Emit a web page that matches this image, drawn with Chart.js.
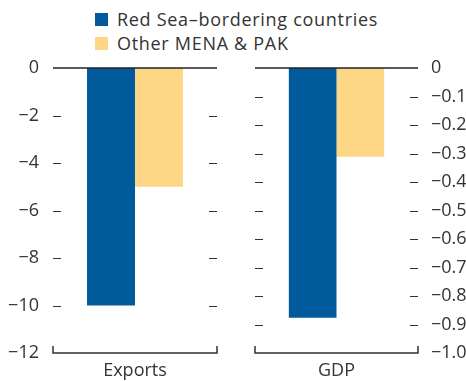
<!DOCTYPE html>
<html>
<head>
<meta charset="utf-8">
<script src="https://cdn.jsdelivr.net/npm/chart.js@4"></script>
<style>
  body { margin: 0; background: #fff; }
  #wrap { position: relative; width: 466px; height: 381px; font-family: 'Open Sans', sans-serif; color: #333; }
  #legend { position: absolute; left: 95px; top: 7px; font-size: 18px; line-height: 24px; letter-spacing: 0.7px; }
  .item { display: flex; align-items: center; height: 24px; white-space: nowrap; }
  .swatch { width: 13px; height: 13px; margin-right: 9px; }
  canvas { position: absolute; top: 0; }
</style>
</head>
<body>
<div id="wrap">
  <div id="legend"></div>
  <canvas id="exportsChart" width="233" height="381" style="left:0"></canvas>
  <canvas id="gdpChart" width="233" height="381" style="left:233px"></canvas>
</div>
<script>
const seriesNames = ['Red Sea–bordering countries', 'Other MENA & PAK'];
const seriesColors = ['#005A9C', '#FDD686'];

const exportsCategory = ['Exports'];
const exportsValues = [-10.0, -5.0];
const exportsTicks = [0, -2, -4, -6, -8, -10, -12];

const gdpCategory = ['GDP'];
const gdpValues = [-0.876, -0.311];
const gdpTicks = [0, -0.1, -0.2, -0.3, -0.4, -0.5, -0.6, -0.7, -0.8, -0.9, -1.0];

Chart.defaults.font.family = "'Open Sans', sans-serif";
Chart.defaults.color = '#333';

//legend as html, built from the series arrays
const legendDiv = document.getElementById('legend');
seriesNames.forEach((name, i) => {
  const item = document.createElement('div');
  item.className = 'item';
  const sw = document.createElement('span');
  sw.className = 'swatch';
  sw.style.background = seriesColors[i];
  item.appendChild(sw);
  item.appendChild(document.createTextNode(name));
  legendDiv.appendChild(item);
});

//zero line, inward tick marks and the bottom bracket
const bracketPlugin = {
  id: 'bracket',
  afterDatasetsDraw(chart) {
    const {ctx, chartArea: a} = chart;
    const y = chart.scales.y;
    const len = 8;
    ctx.save();
    ctx.strokeStyle = '#333';
    ctx.lineWidth = 1;
    y.ticks.forEach(t => {
      if (t.value === y.max || t.value === y.min) return;
      const py = Math.round(y.getPixelForValue(t.value)) + 0.5;
      ctx.beginPath();
      ctx.moveTo(a.left, py); ctx.lineTo(a.left + len, py);
      ctx.moveTo(a.right - len, py); ctx.lineTo(a.right, py);
      ctx.stroke();
    });
    const z = y.getPixelForValue(0);
    ctx.strokeStyle = '#222';
    ctx.lineWidth = 1.5;
    ctx.beginPath();
    ctx.moveTo(a.left, z); ctx.lineTo(a.right, z);
    ctx.stroke();
    const b = y.getPixelForValue(y.min);
    ctx.strokeStyle = '#333';
    ctx.beginPath();
    ctx.moveTo(a.left, b - 7); ctx.lineTo(a.left, b);
    ctx.lineTo(a.right, b); ctx.lineTo(a.right, b - 7);
    ctx.stroke();
    ctx.restore();
  }
};

function fmt(v, decimals) {
  if (v === 0) return '0';
  return v.toFixed(decimals).replace('-', '\u2212');
}

function makePanel(canvasId, category, values, tickValues, side, padding, axisWidth, decimals) {
  const datasets = [];
  for (let i = 0; i < seriesNames.length; i++) {
    datasets.push({
      label: seriesNames[i],
      data: [values[i]],
      backgroundColor: seriesColors[i],
      borderWidth: 0,
      categoryPercentage: 0.585,
      barPercentage: 1,
    });
  }
  return new Chart(document.getElementById(canvasId), {
    type: 'bar',
    data: { labels: category, datasets: datasets },
    options: {
      responsive: false,
      animation: false,
      devicePixelRatio: 1,
      layout: { padding: padding },
      plugins: { legend: { display: false }, tooltip: { enabled: false } },
      scales: {
        x: {
          grid: { display: false },
          border: { display: false },
          ticks: { font: { size: 18 }, color: '#333', padding: -1 },
          afterFit: s => { s.height = 28; }
        },
        y: {
          position: side,
          min: tickValues[tickValues.length - 1],
          max: tickValues[0],
          grid: { display: false },
          border: { display: false },
          afterBuildTicks: s => { s.ticks = tickValues.map(v => ({ value: v })); },
          ticks: {
            font: { size: 18 },
            color: '#333',
            padding: side === 'left' ? 6 : 5,
            autoSkip: false,
            callback: v => fmt(v, decimals)
          },
          afterFit: s => { s.width = axisWidth; }
        }
      }
    },
    plugins: [bracketPlugin]
  });
}

makePanel('exportsChart', exportsCategory, exportsValues, exportsTicks, 'left',
  { left: 0, right: 16, top: 68, bottom: 0 }, 53, 0);
makePanel('gdpChart', gdpCategory, gdpValues, gdpTicks, 'right',
  { left: 22, right: 0, top: 68, bottom: 0 }, 48, 1);
</script>
</body>
</html>
